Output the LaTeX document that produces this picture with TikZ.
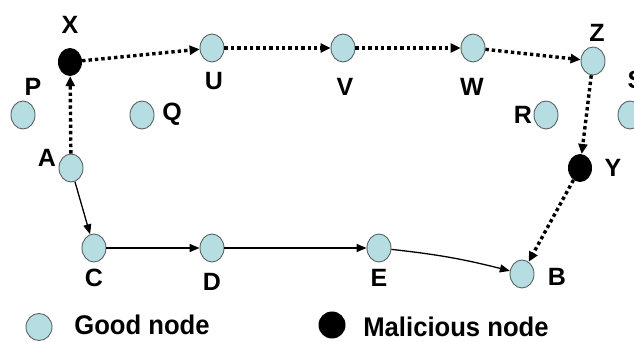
\documentclass[tikz,border=0pt]{standalone}
\usepackage{fontspec}
\setmainfont{Liberation Sans}
\usetikzlibrary{shapes.geometric,arrows.meta}
\definecolor{goodfill}{RGB}{182,222,226}
\definecolor{goodline}{RGB}{90,100,100}
\tikzset{
  x=1pt, y=1pt,
  good/.style={ellipse, draw=goodline, line width=0.9pt, fill=goodfill,
    minimum width=24pt, minimum height=28pt, inner sep=0pt},
  bad/.style={ellipse, fill=black, minimum width=24pt, minimum height=28pt, inner sep=0pt},
  lbl/.style={font=\fontsize{25}{28}\selectfont\bfseries, inner sep=0pt},
  legtext/.style={font=\fontsize{27}{30}\selectfont\bfseries, inner sep=0pt, xscale=0.95},
  hop/.style={-{Triangle[length=10pt,width=9pt]}, line width=3.4pt, dash pattern=on 3.4pt off 3pt},
  link/.style={-{Triangle[length=10pt,width=8pt]}, line width=1.3pt}
}
\begin{document}
\begin{tikzpicture}
\clip (0,0) rectangle (634,342);
\fill[white] (0,0) rectangle (634,342);

% nodes
\node[bad]  (X) at (70,280) {};
\node[good] (U) at (212,294) {};
\node[good] (V) at (343,294) {};
\node[good] (W) at (473,294) {};
\node[good] (Z) at (593,281) {};
\node[good] (P) at (23,227) {};
\node[good] (Q) at (142,227) {};
\node[good] (R) at (546,227) {};
\node[good] (S) at (630,227) {};
\node[good] (A) at (71,174) {};
\node[bad]  (Y) at (580,174) {};
\node[good] (C) at (94,94) {};
\node[good] (D) at (212,94) {};
\node[good] (E) at (379,94) {};
\node[good] (B) at (522,68) {};

% labels
\node[lbl] (lX) at (70,317) {X};
\node[lbl] (lP) at (33,255) {P};
\node[lbl] (lU) at (214,261) {U};
\node[lbl] (lQ) at (172,228) {Q};
\node[lbl] (lA) at (47,184) {A};
\node[lbl] (lV) at (345,255) {V};
\node[lbl] (lW) at (472,255) {W};
\node[lbl] (lZ) at (597,309) {Z};
\node[lbl] (lR) at (523,227) {R};
\node[lbl] (lS) at (636,262) {S};
\node[lbl] (lY) at (613,174) {Y};
\node[lbl] (lC) at (94,64) {C};
\node[lbl] (lD) at (212,60) {D};
\node[lbl] (lE) at (379,64) {E};
\node[lbl] (lB) at (557,65) {B};

% route through the malicious nodes
\draw[hop] (A) -- (X);
\draw[hop] (X) -- (U);
\draw[hop] (U) -- (V);
\draw[hop] (V) -- (W);
\draw[hop] (W) -- (Z);
\draw[hop] (Z) -- (Y);
\draw[hop] (Y) -- (B);

% honest route
\draw[link] (A) -- (C);
\draw[link] (C) -- (D);
\draw[link] (D) -- (E);
\draw[link] (E) to[bend left=4] (B);

% legend
\node[good, minimum width=26pt, minimum height=27pt] (kg) at (39,15) {};
\node[legtext] (tg) at (142,17) {Good node};
\node[bad, minimum width=27pt, minimum height=27pt] (kb) at (332,17) {};
\node[legtext] (tb) at (456,15) {Malicious node};
\end{tikzpicture}
\end{document}
